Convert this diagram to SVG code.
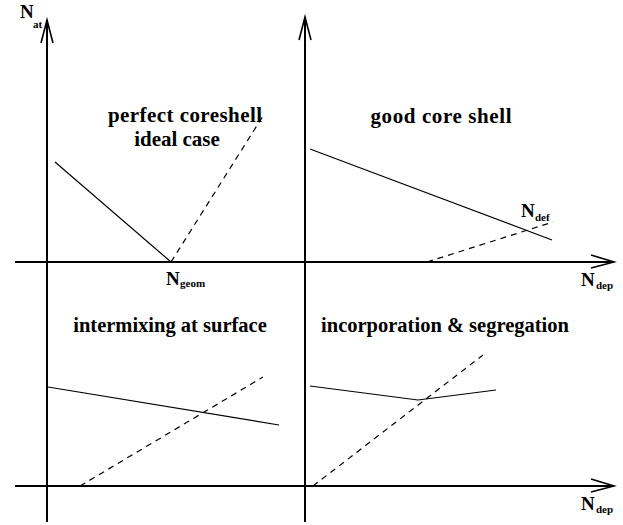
<svg xmlns="http://www.w3.org/2000/svg" width="623" height="525" viewBox="0 0 623 525">
<style>
.ax{stroke:#000;stroke-width:2;fill:none}
.ah{stroke:#000;stroke-width:1.6;fill:none}
.sl{stroke:#000;stroke-width:1.2;fill:none}
.dl{stroke:#000;stroke-width:1.2;fill:none;stroke-dasharray:6,5}
text{font-family:"Liberation Serif","DejaVu Serif",serif;font-weight:bold;fill:#000}
.lt{font-size:21px}
.lb{font-size:20.5px}
.n{font-size:19px}
.s{font-size:11px}
</style>
<rect width="623" height="525" fill="#fff"/>
<g id="axes">
<line class="ax" x1="47" y1="20" x2="47" y2="522"/>
<polyline class="ah" points="41,43 47,20 53,43"/>
<line class="ax" x1="305" y1="18" x2="305" y2="522"/>
<polyline class="ah" points="299,40 305,17 311,40"/>
<line class="ax" x1="15" y1="262" x2="613" y2="262"/>
<polyline class="ah" points="591,255 614,262 591,268"/>
<line class="ax" x1="15" y1="486" x2="613" y2="486"/>
<polyline class="ah" points="591,479 614,486 591,492"/>
</g>
<g id="connectors">
<line class="sl" x1="55" y1="162" x2="171" y2="262"/>
<line class="dl" x1="171" y1="262" x2="263" y2="116"/>
<line class="sl" x1="310" y1="149" x2="552" y2="240"/>
<line class="dl" x1="427" y1="262" x2="553" y2="222"/>
<line class="sl" x1="48" y1="387" x2="279" y2="425"/>
<line class="dl" x1="80" y1="486" x2="263" y2="377"/>
<polyline class="sl" points="310,386 418,400 496,390"/>
<line class="dl" x1="313" y1="486" x2="483" y2="355"/>
</g>
<g id="labels">
<text class="n" x="20" y="18">N</text><text class="s" x="33" y="28">at</text>
<text class="lt" x="185" y="122" text-anchor="middle" textLength="154" lengthAdjust="spacing">perfect coreshell</text>
<text class="lt" x="177" y="146" text-anchor="middle">ideal case</text>
<text class="lt" x="441" y="123" text-anchor="middle" textLength="141" lengthAdjust="spacing">good core shell</text>
<text class="n" x="166" y="285">N</text><text class="s" x="180" y="287">geom</text>
<text class="n" x="521" y="217">N</text><text class="s" x="535" y="221">def</text>
<text class="n" x="581" y="286">N</text><text class="s" x="596" y="289">dep</text>
<text class="n" x="581" y="510">N</text><text class="s" x="596" y="513">dep</text>
<text class="lb" x="170" y="332" text-anchor="middle">intermixing at surface</text>
<text class="lb" x="445" y="332" text-anchor="middle">incorporation &amp; segregation</text>
</g>
</svg>
